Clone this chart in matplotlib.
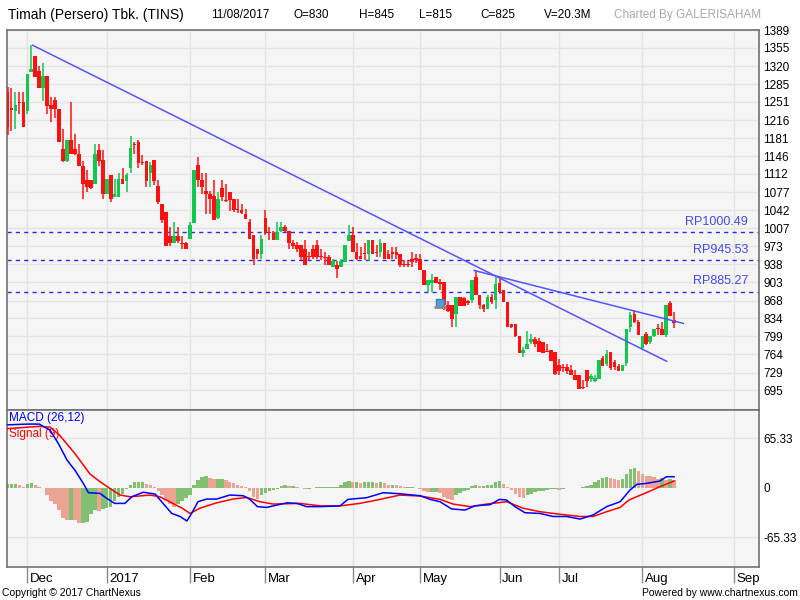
import matplotlib
matplotlib.use("Agg")
import matplotlib.pyplot as plt
import matplotlib.transforms as mtransforms

# ---------------- data ----------------
opens = [1270,1240,1233,1251,1250,1233,1309,1339,1310,1278,1300,1244,1254,1238,1160,1137,1178,1160,1150,1127,
         1100,1100,1093,1159,1138,1074,1110,1068,1068,1103,1099,1124,1169,1174,1135,1137,1113,1138,1088,1054,
         1039,992,978,992,979,978,987,1017,1129,1100,1079,1074,1069,1027,1084,1062,1077,1063,1045,1043,
         1034,1019,994,968,958,1028,1000,999,984,1002,1009,1003,978,975,975,968,953,968,975,953,
         952,952,933,937,933,942,982,994,962,954,959,958,984,962,962,978,958,962,962,958,
         938,938,949,950,949,926,898,902,913,904,904,859,859,843,875,872,866,869,913,878,
         859,852,875,869,901,888,865,823,823,799,767,775,788,793,790,788,770,773,769,743,
         740,739,734,724,724,701,734,716,713,717,758,746,769,750,741,733,748,817,843,827,
         777,803,788,799,815,814,801,863,830]
highs = [1280,1278,1270,1270,1270,1304,1360,1339,1320,1325,1300,1261,1261,1238,1199,1178,1251,1189,1169,1137,
         1119,1100,1169,1169,1159,1103,1110,1103,1114,1124,1114,1185,1174,1177,1148,1137,1135,1138,1100,1054,
         1039,1010,1019,1009,992,980,1019,1119,1145,1113,1113,1080,1100,1077,1100,1093,1077,1063,1063,1055,
         1045,1026,994,968,994,1043,1010,1003,1019,1019,1013,1003,984,981,975,984,962,976,984,968,
         962,955,949,944,949,975,1013,1010,978,971,978,984,984,975,987,978,965,971,971,958,
         946,946,962,958,958,926,908,919,913,910,904,868,859,875,875,875,870,908,926,878,
         862,878,880,914,914,888,865,823,823,799,778,809,804,798,795,788,785,773,769,756,
         746,746,743,734,724,714,734,727,724,753,762,773,769,753,746,743,814,846,849,830,
         799,808,799,814,823,827,859,867,845]
lows = [1187,1195,1198,1228,1203,1227,1309,1299,1277,1253,1227,1212,1219,1174,1135,1135,1150,1148,1127,1063,
        1077,1083,1093,1127,1063,1073,1058,1068,1068,1093,1077,1113,1150,1124,1130,1087,1087,1090,1055,1017,
        973,973,978,978,968,968,986,1017,1087,1074,1034,1034,1023,1026,1060,1058,1041,1039,1037,1035,
        1026,986,936,949,949,994,984,984,984,1000,1000,968,968,962,946,937,946,949,949,946,
        937,936,933,911,933,942,982,962,946,949,946,944,958,952,952,949,949,949,949,933,
        933,933,933,940,926,898,885,885,902,888,849,846,817,817,857,857,860,863,878,852,
        846,852,862,852,881,865,817,815,797,767,759,775,785,779,769,766,768,752,724,724,
        730,727,724,714,697,697,701,711,711,717,741,741,734,734,733,733,741,808,824,801,
        772,782,785,798,801,801,798,838,815]
closes = [1203,1235,1244,1249,1203,1304,1314,1299,1278,1300,1243,1238,1238,1174,1137,1178,1150,1150,1127,1093,
          1087,1084,1150,1137,1074,1103,1063,1074,1103,1093,1110,1163,1167,1134,1133,1099,1129,1099,1058,1023,
          973,978,992,983,977,968,1013,1119,1100,1087,1073,1063,1023,1063,1068,1060,1061,1043,1043,1037,
          1026,986,949,958,987,999,998,984,1000,1009,1002,978,973,968,952,937,951,952,952,951,
          950,936,944,928,944,975,994,962,949,949,957,984,958,960,978,949,949,957,956,937,
          936,936,942,946,926,898,908,908,902,899,859,848,833,875,857,857,864,908,878,859,
          852,875,865,899,885,865,817,817,799,767,773,784,793,784,769,767,768,752,727,732,
          738,732,724,714,698,699,713,722,719,753,741,764,737,740,733,743,814,840,827,801,
          799,784,799,814,813,801,859,838,825]

hist_vals = [5,5,5,3,1,5,6,4,1,-1,-10,-17,-21,-30,-40,-42,-42,-43,-46,-46,
             -45,-35,-30,-31,-28,-27,-25,-18,-12,-8,-2,4,8,8,8,5,3,1,-4,-10,
             -18,-22,-25,-22,-18,-13,-10,3,10,14,15,13,11,11,11,10,8,6,4,2,
             1,-5,-12,-15,-10,-7,-5,-3,-2,2,4,2,2,1,-1,-2,-2,-1,1,1,
             1,1,1,1,3,8,9,7,7,6,8,8,8,6,8,6,4,4,3,2,
             1,1,1,0,-2,-5,-6,-6,-6,-7,-12,-15,-16,-10,-7,-5,-3,2,4,2,
             2,4,4,8,9,5,1,-3,-8,-12,-13,-10,-8,-6,-5,-4,-3,-2,-2,-3,
             -2,-1,-1,0,-1,1,2,4,8,10,13,14,13,11,10,12,18,25,26,22,
             18,16,15,14,11,13,10,12,10]

macd_idx = [0,5,8,10.7,12.8,15,17,19.1,20.4,23.3,25,27,29.6,31.3,34.2,37.2,39.2,41.4,43.5,45.2,
            46.4,48,50.2,52.7,56,59.4,61,63,65.3,67.8,70.4,72.9,75.4,78.8,83.8,85.8,90.5,94.7,98.9,
            104,106.5,109,111.9,115.3,117.8,121.6,124,125.8,127.9,130.4,134.2,137.5,140.9,144.3,
            147.6,151,154.4,156.9,158.6,161,164.4,166.1,168]
macd_vals = [83,84,84,76,58.5,36.5,23,5.7,-6.6,-7.5,-14,-20.7,-20.7,-12,-6,-8.4,-20.7,-34,-38,-44,
             -34,-18.5,-15,-15,-9.7,-10.6,-15,-25,-26,-23,-20,-20.7,-25,-25,-24,-15.4,-13.2,-6.6,-8,
             -10.6,-15.4,-18.5,-28,-29.5,-24,-22.4,-15.4,-16.3,-25,-33,-34,-38,-38,-41.4,
             -36,-25,-18.5,-3,4.4,5.7,8.8,14.5,14.5]
sig_idx = [0,8,10.7,13.1,17,20.8,23.3,25.8,28.4,30.9,35.9,38.4,41.4,44,46,48.5,52.7,56.8,60.3,63.6,
           67,73.7,78.8,83.8,88.8,93.9,98.9,104,109,112.3,116.6,120.8,125.8,129.9,134.2,139.2,144.3,
           147.6,151,154.4,156.6,161,164.4,168]
sig_vals = [78,81,80,69.5,45,18,8,-0.9,-9.7,-12,-9.7,-12,-20,-27,-34,-27,-20,-15,-12.8,-18.5,
            -21.6,-20.7,-24,-24,-20.7,-15.4,-9.7,-11,-15.4,-21.6,-25,-21.6,-18.5,-27,-31.7,-35,-38,
            -38,-31.7,-26,-16.3,-6.6,1.3,8.8]

month_idx = [5, 25, 46, 65, 87, 104, 124, 139, 160, 183]
month_labels = ["Dec", "2017", "Feb", "Mar", "Apr", "May", "Jun", "Jul", "Aug", "Sep"]
price_ticks = ["1389","1355","1320","1285","1251","1216","1181","1146","1112","1077","1042",
               "1007","973","938","903","868","834","799","764","729","695"]
macd_ticks = ["65.33", "0", "-65.33"]
levels = [1000.49, 945.53, 885.27]
trend1 = ([6.35, 166.1], [1360, 751])
trend2 = ([117.6, 170.3], [926, 824])
alert_idx, alert_price = 109, 863

# ---------------- style ----------------
FONT = ["Liberation Sans", "DejaVu Sans"]
plt.rcParams["font.family"] = FONT
PANEL = "#f5f5f5"
GRID = "#e3e3e3"
SPINE = "#6e7370"
GREEN = "#10c850"
RED = "#ff1010"

W, H = 800, 600
fig = plt.figure(figsize=(8, 6), dpi=100, facecolor="white")

def fx(px):
    return px / W

def fy(py):
    return 1 - py / H

L, R = 7, 759
ax1 = fig.add_axes([fx(L), fy(410), fx(R - L), (410 - 30) / H])
ax2 = fig.add_axes([fx(L), fy(567), fx(R - L), (567 - 410) / H])

xlim = (-0.13, 189.4)
for ax in (ax1, ax2):
    ax.set_facecolor(PANEL)
    ax.set_xlim(*xlim)
    for s in ax.spines.values():
        s.set_color(SPINE)
        s.set_linewidth(1.2)
    for m in month_idx:
        ax.axvline(m, color=GRID, lw=1, zorder=0)

# ----- price panel -----
ax1.set_ylim(657, 1389.5)
tick_vals = [float(t) for t in price_ticks]
for v in tick_vals:
    ax1.axhline(v, color=GRID, lw=1, zorder=0)
ax1.yaxis.tick_right()
ax1.set_yticks(tick_vals)
ax1.set_yticklabels(price_ticks, fontsize=8.5)
ax1.tick_params(axis="y", length=0, pad=3)
ax1.set_xticks([])

n = len(closes)
idx = list(range(n))
cols = [GREEN if c >= o else RED for o, c in zip(opens, closes)]
ax1.vlines(idx, lows, highs, colors=cols, lw=1.1, zorder=3)
bottoms = [min(o, c) for o, c in zip(opens, closes)]
heights = [max(abs(c - o), 2.2) for o, c in zip(opens, closes)]
ax1.bar(idx, heights, bottom=bottoms, width=0.92, color=cols, lw=0, zorder=4)

for lv in levels:
    ax1.axhline(lv, color="#2a2aff", lw=1, ls=(0, (3, 3)), zorder=2)
    ax1.annotate("RP%.2f" % lv, xy=(186.6, lv), xytext=(0, 3), textcoords="offset points",
                 ha="right", va="bottom", fontsize=9, color="#4848f0")

ax1.plot(trend1[0], trend1[1], color="#5555ff", lw=1.1, zorder=5)
ax1.plot(trend2[0], trend2[1], color="#5555ff", lw=1.1, zorder=5)

# alert bell
ax1.plot([alert_idx], [alert_price], marker="s", ms=5.5, color="#4fa3d9", mec="#3a7fb0", zorder=6)
ax1.plot([alert_idx], [alert_price - 7], marker="_", ms=9, mew=2, color="#8a8a8a", zorder=6)

# ----- MACD panel -----
ax2.set_ylim(-104.7, 102.6)
for v in (65.33, -65.33):
    ax2.axhline(v, color=GRID, lw=1, zorder=0)
ax2.yaxis.tick_right()
ax2.set_yticks([float(t) for t in macd_ticks])
ax2.set_yticklabels(macd_ticks, fontsize=8.5)
ax2.tick_params(axis="y", length=0, pad=3)

hcols = []
prev = None
for v in hist_vals:
    if prev is None or v >= prev:
        hcols.append("#80c070")
    else:
        hcols.append("#eba393")
    prev = v
ax2.bar(idx, hist_vals, width=0.9, color=hcols, lw=0, zorder=2)
ax2.plot(sig_idx, sig_vals, color="#ff0000", lw=1.1, zorder=4)
ax2.plot(macd_idx, macd_vals, color="#0000ff", lw=1.1, zorder=5)

ax2.text(0.003, 0.985, "MACD (26,12)", transform=ax2.transAxes, color="#0000ff",
         fontsize=8.5, ha="left", va="top")
ax2.text(0.003, 0.885, "Signal (9)", transform=ax2.transAxes, color="#ff0000",
         fontsize=8.5, ha="left", va="top")

ax2.set_xticks(month_idx)
ax2.set_xticklabels([])
ax2.tick_params(axis="x", direction="out", length=11.5, width=1, color="#8a8a8a")
trans = mtransforms.blended_transform_factory(ax2.transData, ax2.transAxes)
for m, lab in zip(month_idx, month_labels):
    ax2.annotate(lab, xy=(m, 0), xycoords=trans, xytext=(2, -4), textcoords="offset points",
                 ha="left", va="top", fontsize=9.5, color="black")

# ----- header / footer -----
fig.text(fx(8), fy(15), "Timah (Persero) Tbk. (TINS)", fontsize=10, va="center", ha="left")
for px, s in [(211, "11/08/2017"), (293, "O=830"), (359, "H=845"), (419, "L=815"),
              (480, "C=825"), (544, "V=20.3M")]:
    fig.text(fx(px), fy(15), s, fontsize=8.5, va="center", ha="left")
fig.text(fx(614), fy(15), "Charted By GALERISAHAM", fontsize=8.5, va="center", ha="left",
         color="#a8a8a8")
fig.text(fx(2), fy(593), "Copyright \u00a9 2017 ChartNexus", fontsize=7.5, va="center", ha="left")
fig.text(fx(798), fy(593), "Powered by www.chartnexus.com", fontsize=7.5, va="center", ha="right")

fig.savefig("out.png", dpi=100, facecolor="white")
